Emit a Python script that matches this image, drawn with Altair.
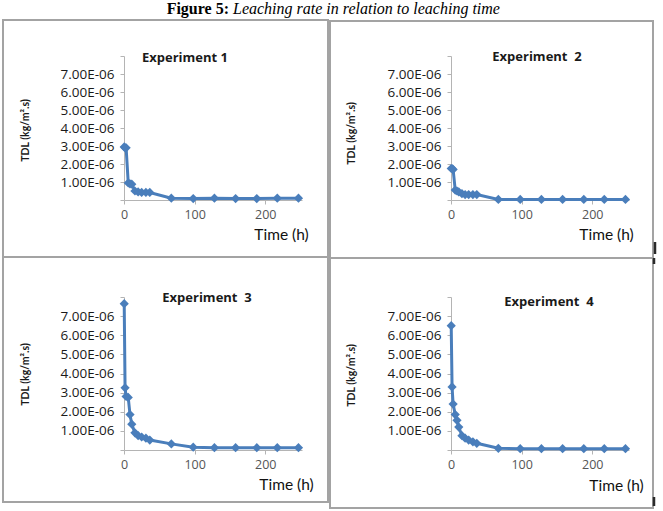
import altair as alt
import pandas as pd

# Leaching times (h) shared by all four experiments
time_h = [0.3, 1.5, 3, 6, 8.5, 11, 15.5, 20, 25, 31, 36.5, 67, 98, 128, 158, 188, 217, 247]

# Leaching rate TDL, in units of 1e-6 kg/(m2.s)
exp1 = [2.95, 2.9, 2.9, 0.95, 0.9, 0.88, 0.5, 0.45, 0.42, 0.42, 0.42, 0.1, 0.08, 0.1, 0.08, 0.08, 0.1, 0.1]
exp2 = [1.75, 1.75, 1.7, 0.55, 0.5, 0.45, 0.35, 0.3, 0.3, 0.3, 0.3, 0.03, 0.03, 0.03, 0.03, 0.03, 0.03, 0.03]
exp3 = [7.65, 3.25, 2.8, 2.75, 1.85, 1.35, 0.9, 0.75, 0.68, 0.62, 0.52, 0.32, 0.15, 0.12, 0.12, 0.12, 0.12, 0.12]
exp4 = [6.5, 3.3, 2.4, 1.85, 1.55, 1.2, 0.75, 0.62, 0.52, 0.43, 0.35, 0.09, 0.07, 0.07, 0.07, 0.07, 0.07, 0.07]

panel_titles = ["Experiment 1", "Experiment \u00a02", "Experiment \u00a03", "Experiment \u00a04"]
y_ticks = [i * 1e-6 for i in range(9)]
x_ticks = [0, 100, 200]

BLUE = "#4a7ebb"
AXIS_GREY = "#b4b4b4"
FRAME_GREY = "#a3a3a3"
FONT = "Open Sans"

W = 178


def panel(name, vals, head_xy, ytitle_xy, xtitle_xy, frame):
    df = pd.DataFrame({"t": time_h, "v": [v * 1e-6 for v in vals]})
    base = alt.Chart(df)
    x_axis = alt.Axis(
        values=x_ticks, grid=False, tickSize=4, tickColor=AXIS_GREY,
        domainColor=AXIS_GREY, labelFont=FONT, labelFontSize=12.5,
        labelColor="#555555", labelPadding=4, labelFlush=False,
        labelOverlap=False,
        title="Time (h)", titleFont="Lato", titleFontSize=15.5,
        titleFontWeight="normal", titleColor="#111111",
        titleX=xtitle_xy[0], titleY=xtitle_xy[1],
        titleAlign="center", titleBaseline="middle",
    )
    y_axis = alt.Axis(
        values=y_ticks, grid=False, tickSize=4, tickColor=AXIS_GREY,
        domainColor=AXIS_GREY, labelFont=FONT, labelFontSize=13.5,
        labelColor="#1a1a1a", labelPadding=6, labelOverlap=False,
        labelSeparation=0,
        labelExpr="datum.value < 5e-7 || datum.value > 7.5e-6 ? '' : "
                  "replace(format(datum.value, '.2e'), 'e-', 'E-0')",
        title="TDL (kg/m\u00b2.s)", titleFont="Lato", titleFontSize=10.5,
        titleFontWeight="bold", titleColor="#1a1a1a",
        titleX=ytitle_xy[0], titleY=ytitle_xy[1], titleAngle=270,
        titleAlign="center", titleBaseline="middle",
    )
    enc = dict(
        x=alt.X("t:Q", scale=alt.Scale(domain=[0, 252], nice=False, zero=False), axis=x_axis),
        y=alt.Y("v:Q", scale=alt.Scale(domain=[0, 8e-6], nice=False), axis=y_axis),
    )
    line = base.mark_line(color=BLUE, strokeWidth=3).encode(**enc)
    pts = base.mark_point(shape="diamond", filled=True, size=85, color=BLUE,
                          opacity=1).encode(**enc)
    one = pd.DataFrame({"s": [name]})
    head = alt.Chart(one).mark_text(
        font=FONT, fontSize=13, fontWeight="bold", color="#1a1a1a",
        align="center", baseline="middle",
    ).encode(text="s:N", x=alt.value(head_xy[0]), y=alt.value(head_xy[1]))
    box = alt.Chart(one).mark_rect(
        fillOpacity=0, stroke=FRAME_GREY, strokeWidth=2,
    ).encode(x=alt.value(frame[0]), x2=alt.value(frame[1]),
             y=alt.value(frame[2]), y2=alt.value(frame[3]))
    return [box, line, pts, head]


def edge_mark(x, y0, y1):
    # short dark stroke on the outer right edge of the frame
    return alt.Chart(pd.DataFrame({"k": [0]})).mark_rule(
        color="#2a2a2a", strokeWidth=2.5,
    ).encode(x=alt.value(x), y=alt.value(y0), y2=alt.value(y1))


l1 = panel(panel_titles[0], exp1, (61, 2), (-99, 74), (157, 34), (-121, 204, -36, 201))
l2 = panel(panel_titles[1], exp2, (86, 1), (-100, 77), (155, 34), (-121, 202, -35, 202))
l3 = panel(panel_titles[2], exp3, (83, 1), (-99, 77), (162, 34), (-121, 204, -40, 205))
l4 = panel(panel_titles[3], exp4, (98, 5), (-100, 78), (165, 35), (-121, 202, -39, 211))

# Figure caption and an invisible anchor fixing the page origin
cap = pd.DataFrame({"a": ["Figure 5:"], "b": ["Leaching rate in relation to leaching time"]})
cap_bold = alt.Chart(cap).mark_text(
    font="Liberation Serif", fontSize=16, fontWeight="bold", color="#000000",
    align="right", baseline="alphabetic",
).encode(text="a:N", x=alt.value(105), y=alt.value(-42))
cap_ital = alt.Chart(cap).mark_text(
    font="Liberation Serif", fontSize=16, fontStyle="italic", color="#000000",
    align="left", baseline="alphabetic",
).encode(text="b:N", x=alt.value(109), y=alt.value(-42))
anchor = alt.Chart(cap).mark_rect(opacity=0).encode(
    x=alt.value(-124), x2=alt.value(-123), y=alt.value(-56), y2=alt.value(-55))

p1 = alt.layer(*l1, cap_bold, cap_ital, anchor).properties(width=W, height=144)
p2 = alt.layer(*l2, edge_mark(204, 186, 198)).properties(width=W, height=144)
p3 = alt.layer(*l3).properties(width=W, height=153)
p4 = alt.layer(*l4, edge_mark(203, -39, -33), edge_mark(203, 200, 209)).properties(width=W, height=153)

chart = alt.concat(
    p1, p2, p3, p4, columns=2,
    spacing=alt.RowColnumber(row=97, column=149),
    bounds="flush", align="each",
).properties(
    padding={"left": 0, "top": 0, "right": 0, "bottom": 0},
    background="#ffffff",
).configure_view(stroke=None)

chart.save("out.html", embed_options={"renderer": "svg", "actions": False})
